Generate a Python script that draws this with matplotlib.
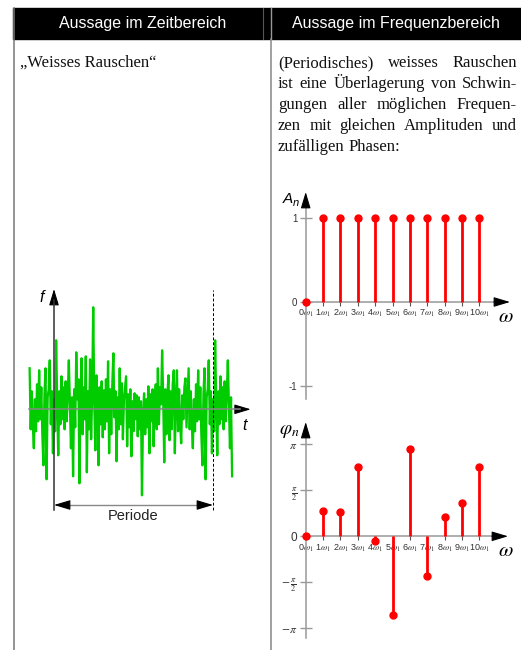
import matplotlib
matplotlib.use("Agg")
import matplotlib.pyplot as plt
import numpy as np
from matplotlib.patches import Rectangle

plt.rcParams["mathtext.fontset"] = "stix"

# ---------------------------------------------------------------- data
header_left = "Aussage im Zeitbereich"
header_right = "Aussage im Frequenzbereich"
left_caption = "\u201eWeisses Rauschen\u201c"
paragraph_lines = [
    "(Periodisches) weisses Rauschen",
    "ist eine Überlagerung von Schwin-",
    "gungen aller möglichen Frequen-",
    "zen mit gleichen Amplituden und",
    "zufälligen Phasen:",
]
period_label = "Periode"

harmonics = list(range(11))
amplitudes = [0, 1, 1, 1, 1, 1, 1, 1, 1, 1, 1]
# phases in multiples of pi
phases_pi = [0, 0.28, 0.26, 0.75, -0.05, -0.86, 0.95, -0.43, 0.21, 0.365, 0.755]

amp_ticks = [-1, 0, 1]
amp_ticklabels = ["-1", "0", "1"]
phase_ticks_pi = [-1, -0.5, 0, 0.5, 1]
phase_ticklabels = [r"$-\pi$", r"$-\,\frac{\pi}{2}$", "0", r"$\frac{\pi}{2}$", r"$\pi$"]
freq_ticklabels = [f"{n}" + r"$\omega_1$" for n in harmonics]

# one period of the noise signal (arbitrary units)
noise_period = [
    10, -22, 69, 8, -46, 18, -15, 33, -10, 22,
    -20, 28, -12, 15, 49, 5, -39, 12, -67, 20,
    -18, 57, 10, 30, -74, 15, 51, -25, 22, -10,
    53, -63, 18, -20, 50, -30, 14, 102, 5, -41,
    34, 10, -56, 22, -15, 28, -28, 19, -20, 30,
    -12, 48, -44, 20, -25, 25, 56, -8, 18, -52,
    12, -20, 41, -15, 26, -30, 10, 22, 33, -37,
    15, -18, 20, -47, 8, -22, 16, -10, 14, -27,
    12, -20, 8, -86, -5, 16, -25, 10, -18, 23,
    -44, 15, -12, 20, -37, 6, 25, -20, 41, -15,
    22, 5, 59, 12, -53, 20, -25, 15, 34, -31,
    18, -20, 25, 39, -44, 10, 39, -22, 20, -15,
    -34, 14, -10, 22, 31, -18, 12, 41, -20, 18,
    -15, -39, 10, -22, 25, -12, 39, -10, 22, -25,
    -56, 15, 41, -70, 12, 20, 49, -15, 18, -44,
]
samples_before = 23
samples_after = 18

# ---------------------------------------------------------------- figure
W, H = 521, 650
fig = plt.figure(figsize=(W / 100, H / 100), dpi=100)

bg = fig.add_axes([0, 0, 1, 1])
bg.set_xlim(0, W)
bg.set_ylim(H, 0)
bg.axis("off")


def px_axes(x0, y0, x1, y1, ox, oy, sx, sy):
    """Axes over a pixel box; data origin at pixel (ox, oy), sx/sy pixels per unit."""
    ax = fig.add_axes([x0 / W, 1 - y1 / H, (x1 - x0) / W, (y1 - y0) / H])
    ax.set_xlim((x0 - ox) / sx, (x1 - ox) / sx)
    ax.set_ylim((oy - y1) / sy, (oy - y0) / sy)
    ax.patch.set_alpha(0)
    for s in ("top", "right"):
        ax.spines[s].set_visible(False)
    ax.spines["left"].set_position(("data", 0))
    ax.spines["bottom"].set_position(("data", 0))
    return ax


def arrow_head(ax, x, y, dx, dy, color="black"):
    ax.annotate("", xy=(x, y), xycoords="data",
                xytext=(dx, dy), textcoords="offset pixels",
                arrowprops=dict(arrowstyle="-|>,head_length=1.0,head_width=0.3",
                                color=color, lw=0.8, shrinkA=0, shrinkB=0),
                annotation_clip=False)


# ---------------------------------------------------------------- table frame
bg.add_patch(Rectangle((13, 7.5), W - 13, 31, color="black", zorder=1))
bg.plot([13.5, 13.5], [7.5, H], color="#777777", lw=1.1, zorder=2)
bg.plot([270.5, 270.5], [38.5, H], color="#888888", lw=1.1, zorder=2)
bg.plot([263, 263], [7.5, 38.5], color="#555555", lw=0.8, zorder=2)
bg.plot([270.5, 270.5], [7.5, 38.5], color="#999999", lw=1.0, zorder=2)

hdr = dict(color="white", fontsize=11.5, family="Liberation Sans",
           ha="center", va="center", zorder=3)
bg.text(143, 23.5, header_left, **hdr)
bg.text(396, 23.5, header_right, **hdr)

serif = dict(family="Liberation Serif", fontsize=12, color="#111111", va="baseline")
bg.text(20, 67, left_caption, ha="left", **serif)

renderer = fig.canvas.get_renderer()
x_left, x_right = 278, 517
for i, line in enumerate(paragraph_lines):
    y = 67 + i * 21.0
    words = line.split(" ")
    texts = [bg.text(x_left, y, w, ha="left", **serif) for w in words]
    widths = [t.get_window_extent(renderer).width for t in texts]
    if i == len(paragraph_lines) - 1:
        space = 4.2
    else:
        space = (x_right - x_left - sum(widths)) / (len(words) - 1)
    x = x_left
    for t, w in zip(texts, widths):
        t.set_x(x)
        x += w + space

# ---------------------------------------------------------------- noise
ax_n = px_axes(20, 280, 260, 522, ox=54, oy=409.3, sx=159, sy=1)
n = len(noise_period)
idx = np.arange(-samples_before, n + samples_after + 1)
t = idx / n
f = np.array([noise_period[i % n] for i in idx])
ax_n.plot(t, f, color="#00cc00", lw=1.65, zorder=2, clip_on=False)
ax_n.set_xticks([])
ax_n.set_yticks([])
ax_n.spines["left"].set_color("#333333")
ax_n.spines["left"].set_linewidth(1.1)
ax_n.spines["left"].set_bounds(409.3 - 510, 409.3 - 300)
ax_n.spines["left"].set_zorder(3)
ax_n.spines["bottom"].set_color("#888888")
ax_n.spines["bottom"].set_linewidth(1.1)
ax_n.spines["bottom"].set_bounds(-25 / 159, 1.17)
ax_n.spines["bottom"].set_zorder(3)
arrow_head(ax_n, 0, 409.3 - 289, 0, -14)
arrow_head(ax_n, (250.7 - 54) / 159, 0, -16, 0)
ax_n.plot([1, 1], [409.3 - 510, 409.3 - 290], color="black", lw=0.7,
          ls=(0, (3, 2)), zorder=3, clip_on=False)
y_per = 409.3 - 505
ax_n.plot([0.06, 0.94], [y_per, y_per], color="#888888", lw=1.0, clip_on=False)
arrow_head(ax_n, 0, y_per, 14, 0)
arrow_head(ax_n, 1, y_per, -14, 0)
ax_n.text(0.5, 409.3 - 516, period_label, ha="center", va="center",
          family="Liberation Sans", fontsize=10.5, color="#222222")
bg.text(42, 297, "f", family="Liberation Sans", style="italic",
        fontsize=11.5, ha="center", va="center")
bg.text(245, 425, "t", family="Liberation Sans", style="italic",
        fontsize=11.5, ha="center", va="center")


# ---------------------------------------------------------------- spectra
def style_spectrum(ax, bottom_end, ylabelsize):
    for s in ("left", "bottom"):
        ax.spines[s].set_color("#999999")
        ax.spines[s].set_linewidth(1.1)
    ax.spines["bottom"].set_bounds(0, bottom_end)
    ax.tick_params(axis="y", direction="inout", length=8, width=1,
                   color="#999999", labelcolor="#333333", labelsize=ylabelsize, pad=2)
    ax.tick_params(axis="x", direction="out", length=3, width=0.8,
                   color="#555555", labelcolor="#333333", labelsize=6.5, pad=1.5)
    for lab in ax.get_xticklabels() + ax.get_yticklabels():
        lab.set_family("Liberation Sans")


sx = 17.36
# amplitude spectrum
ax_a = px_axes(280, 185, 515, 405, ox=305.7, oy=302, sx=sx, sy=84.4)
ax_a.vlines(harmonics, 0, amplitudes, color="red", lw=2, zorder=4, clip_on=False)
ax_a.plot(harmonics, amplitudes, "o", color="red", ms=5, zorder=5, clip_on=False)
ax_a.set_yticks(amp_ticks, amp_ticklabels)
ax_a.set_xticks(harmonics, freq_ticklabels)
ax_a.spines["left"].set_bounds((302 - 399) / 84.4, (302 - 205) / 84.4)
style_spectrum(ax_a, (496 - 305.7) / sx, 7)
arrow_head(ax_a, (510 - 305.7) / sx, 0, -16, 0)
arrow_head(ax_a, 0, (302 - 192) / 84.4, 0, -13)

# phase spectrum
sy_p = 45.9 / (np.pi / 2)
phases = [p * np.pi for p in phases_pi]
ax_p = px_axes(280, 415, 515, 645, ox=305.7, oy=536.3, sx=sx, sy=sy_p)
ax_p.vlines(harmonics, 0, phases, color="red", lw=2, zorder=4, clip_on=False)
ax_p.plot(harmonics, phases, "o", color="red", ms=5, zorder=5, clip_on=False)
ax_p.set_yticks([p * np.pi for p in phase_ticks_pi], phase_ticklabels)
ax_p.set_xticks(harmonics, freq_ticklabels)
ax_p.spines["left"].set_bounds((536.3 - 638) / sy_p, (536.3 - 436) / sy_p)
style_spectrum(ax_p, (494 - 305.7) / sx, 8.5)
arrow_head(ax_p, (508 - 305.7) / sx, 0, -16, 0)
arrow_head(ax_p, 0, (536.3 - 422) / sy_p, 0, -13)

# axis names
bg.text(288, 203, "A", family="Liberation Sans", style="italic", fontsize=11,
        ha="center", va="baseline")
bg.text(296, 206, "n", family="Liberation Sans", style="italic", fontsize=8,
        ha="center", va="baseline")
bg.text(289, 431, r"$\varphi_n$", fontsize=14, ha="center", va="center")
bg.text(506, 316, r"$\omega$", fontsize=15, ha="center", va="center")
bg.text(506, 550, r"$\omega$", fontsize=15, ha="center", va="center")

fig.savefig("out.png", dpi=100)
